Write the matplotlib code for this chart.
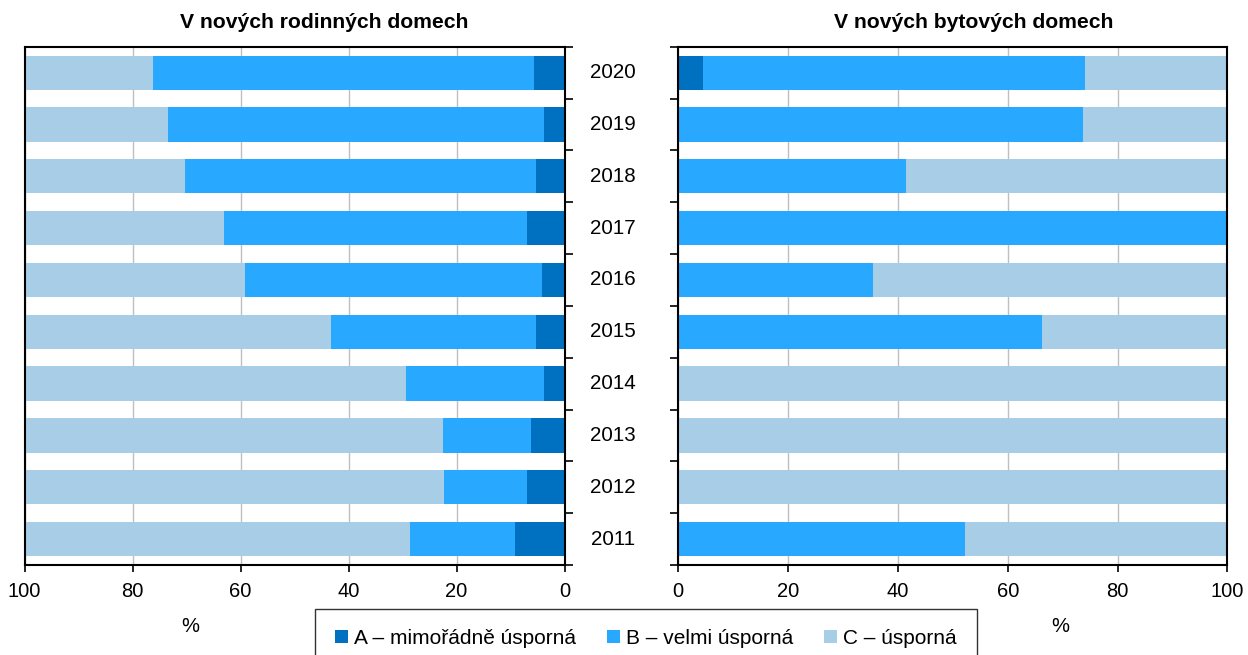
import matplotlib
matplotlib.use("Agg")
import matplotlib.pyplot as plt
from matplotlib.patches import Patch
from matplotlib.ticker import FixedLocator, NullFormatter
from matplotlib.transforms import blended_transform_factory

plt.rcParams['font.family'] = ['Liberation Sans', 'DejaVu Sans']

years = [2011, 2012, 2013, 2014, 2015, 2016, 2017, 2018, 2019, 2020]
# Rodinné domy (family houses)
rd_A = [9.1, 7.0, 6.3, 3.8, 5.3, 4.2, 6.9, 5.3, 3.9, 5.7]
rd_B = [19.5, 15.3, 16.2, 25.5, 38.0, 55.0, 56.1, 65.0, 69.5, 70.5]
rd_C = [71.4, 77.7, 77.5, 70.7, 56.7, 40.8, 37.0, 29.7, 26.6, 23.8]
# Bytové domy (apartment buildings)
bd_A = [0, 0, 0, 0, 0, 0, 0, 0, 0, 4.5]
bd_B = [52.2, 0, 0, 0, 66.3, 35.5, 100.0, 41.5, 73.7, 69.5]
bd_C = [47.8, 100.0, 100.0, 100.0, 33.7, 64.5, 0, 58.5, 26.3, 26.0]

labels = ['A – mimořádně úsporná', 'B – velmi úsporná', 'C – úsporná']
titles = ['V nových rodinných domech', 'V nových bytových domech']
colors = ['#0070C0', '#29A8FF', '#A7CDE7']

W, H = 1248, 655
fig = plt.figure(figsize=(W / 100, H / 100), dpi=100)

top_px, bot_px = 46.7, 565.0
axL = fig.add_axes([24.5 / W, 1 - bot_px / H, (564.6 - 24.5) / W, (bot_px - top_px) / H])
axR = fig.add_axes([678 / W, 1 - bot_px / H, (1227.5 - 678) / W, (bot_px - top_px) / H])

ypos = list(range(len(years)))
bh = 0.66

for ax, A, B, C in [(axL, rd_A, rd_B, rd_C), (axR, bd_A, bd_B, bd_C)]:
    left = [0] * len(years)
    for vals, col in zip([A, B, C], colors):
        ax.barh(ypos, vals, left=left, height=bh, color=col, edgecolor='none', zorder=2)
        left = [l + v for l, v in zip(left, vals)]
    ax.set_xlim(0, 100)
    ax.set_ylim(-0.5, len(years) - 0.5)
    ax.set_xticks([0, 20, 40, 60, 80, 100])
    ax.xaxis.grid(True, color='#BFBFBF', linewidth=1.0, zorder=0)
    ax.set_axisbelow(True)
    ax.yaxis.set_major_locator(FixedLocator([i - 0.5 for i in range(len(years) + 1)]))
    ax.yaxis.set_major_formatter(NullFormatter())
    ax.tick_params(axis='x', labelsize=14.5, length=5, width=1.2, direction='out', pad=7, colors='black')
    ax.tick_params(axis='y', length=6, width=1.2, direction='out')
    for s in ax.spines.values():
        s.set_linewidth(1.5)
        s.set_color('black')

axL.invert_xaxis()
axL.yaxis.tick_right()
axR.yaxis.tick_left()

# Panel titles
fig.text(324 / W, 1 - 22 / H, titles[0], ha='center', va='center', fontsize=15.2, fontweight='bold')
fig.text(974 / W, 1 - 22 / H, titles[1], ha='center', va='center', fontsize=15.2, fontweight='bold')

# Year labels between the two panels
tr = blended_transform_factory(fig.transFigure, axL.transData)
for y, yr in zip(ypos, years):
    axL.text(613 / W, y, str(yr), transform=tr, ha='center', va='center', fontsize=14.8, clip_on=False)

fig.text(190 / W, 1 - 627 / H, '%', ha='center', va='center', fontsize=14.5)
fig.text(1060 / W, 1 - 627 / H, '%', ha='center', va='center', fontsize=14.5)

handles = [Patch(facecolor=c, edgecolor='none') for c in colors]
leg = fig.legend(handles, labels, loc='upper center', bbox_to_anchor=(646 / W, 1 - 609 / H),
                 ncol=3, fontsize=15, frameon=True, fancybox=False, edgecolor='black',
                 handlelength=0.6, handleheight=0.6, handletextpad=0.3, columnspacing=1.5,
                 borderpad=0.95, borderaxespad=0)
leg.get_frame().set_linewidth(1.0)

fig.savefig('out.png', dpi=100)
